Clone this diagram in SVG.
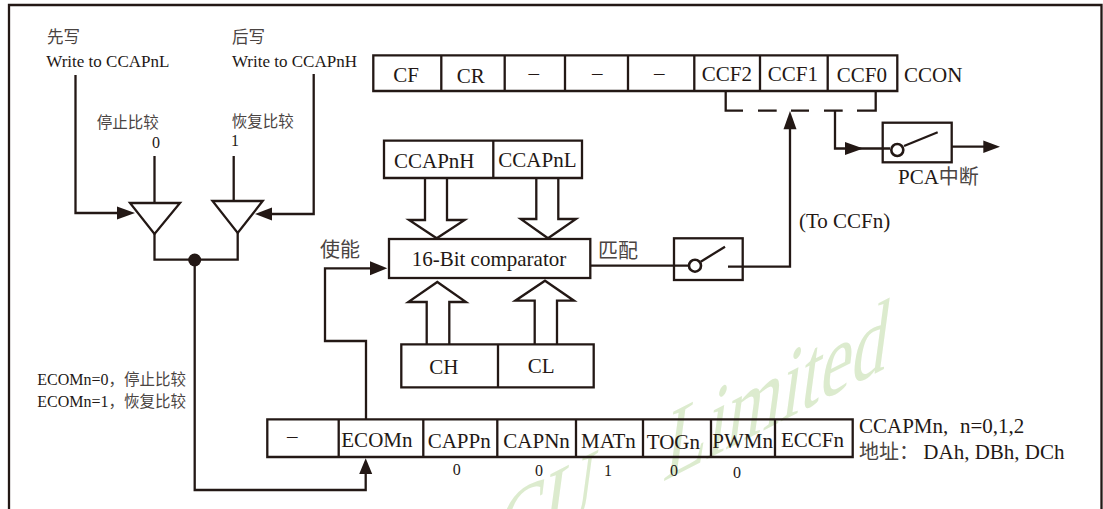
<svg xmlns="http://www.w3.org/2000/svg" width="1103" height="509" viewBox="0 0 1103 509">
<defs>
<style>
.l{fill:none;stroke:#231815;stroke-width:2.300}
.h{fill:#231815;stroke:none}
.c{fill:#fff;stroke:#231815;stroke-width:2.600}
text{font-family:"Liberation Serif","Noto Sans CJK SC",serif;fill:#231815}
.a{font-size:21px}
.b{font-size:17px}
.s{font-size:16px}
.z{font-size:15.5px;fill:#4a4442}
.y{font-size:16.5px;fill:#4a4442}
.x{font-size:20px;fill:#4a4442}
.d{font-size:16px;fill:#231815}
.w{font-size:79px;fill:#dcebce}
</style>
</defs>
<rect width="1103" height="509" fill="#fff"/>
<g id="watermark">
<text class="w" transform="matrix(0.89,-0.454,-0.18,1.34,662,482)"><tspan x="-190">CU</tspan><tspan x="0">Limited</tspan></text>
</g>
<g id="frame"><path class="l" d="M9 509V5H1101.500V509"/></g>
<g id="connectors">
<path class="l" d="M75.500 75V213H120"/><path class="h" d="M117 206.500L135 213L117 219.500Z"/>
<path class="l" d="M313.700 74V214H270"/><path class="h" d="M272 207.500L255 214L272 220.500Z"/>
<path class="l" d="M154.500 156V203M233.700 156V201"/>
<path class="l" d="M154.500 234V259.700H237.700V233"/>
<circle class="h" cx="194.700" cy="260" r="6.500"/>
<path class="l" d="M194.700 260V490H365.700V472"/><path class="h" d="M359.200 474L365.700 458.300L372.200 474Z"/>
<path class="l" d="M366 419V341H325V268.300H372"/><path class="h" d="M370 261.300L387.300 268.300L370 275.300Z"/>
<path class="l" d="M590 265.700H688"/>
<path class="l" d="M728 266.700H790V127"/><path class="h" d="M783.500 129.300L790 111L796.500 129.300Z"/>
<path class="l" d="M725.700 91V110.700H743M758 110.700H776.700M791 110.700H809M824 110.700H842.700M857 110.700H875.700V91"/>
<path class="l" d="M835 110.700V148.500H890"/><path class="h" d="M845 142L863.300 148.500L845 155Z"/>
<path class="l" d="M951.700 146.700H985"/><path class="h" d="M983.300 140.500L1000 146.700L983.300 153Z"/>
<path class="l" d="M425 178V220H409L436.700 238.300L464.700 220H447V178"/>
<path class="l" d="M536.300 178V219H520.700L548 238.300L576 219H558.300V178"/>
<path class="l" d="M426.700 344V302H408.300L437.300 282L466 302H449.300V344"/>
<path class="l" d="M534.700 344V300.700H515.300L545 280.700L574 300.700H557V344"/>
</g>
<g id="buffer-0"><path class="l" d="M130 203H180L154.500 234Z"/></g>
<g id="buffer-1"><path class="l" d="M212.500 201H262.700L237.700 233Z"/></g>
<g id="ccon">
<path class="l" d="M373.300 55.300H897.300V91H373.300ZM441.300 55.300V91M504.700 55.300V91M565 55.300V91M628 55.300V91M694.300 55.300V91M760 55.300V91M827.700 55.300V91"/>
<text class="a" x="393.300" y="81.700">CF</text>
<text class="a" x="456.700" y="83">CR</text>
<text class="a" x="528.500" y="79.500">–</text>
<text class="a" x="592" y="79.500">–</text>
<text class="a" x="654" y="79.500">–</text>
<text class="a" x="701.700" y="81">CCF2</text>
<text class="a" x="767.700" y="81">CCF1</text>
<text class="a" x="836.700" y="82.300">CCF0</text>
<text class="a" x="904" y="81.700">CCON</text>
</g>
<g id="ccap">
<path class="l" d="M384 140.700H582V178H384ZM493.300 140.700V178"/>
<text class="a" x="394" y="168.300">CCAPnH</text>
<text class="a" x="498.300" y="166.700">CCAPnL</text>
</g>
<g id="comparator">
<rect class="l" x="389" y="239" width="201.300" height="39"/>
<text class="a" x="411.700" y="265.700">16-Bit comparator</text>
</g>
<g id="counter">
<path class="l" d="M401.300 344.300H593.700V387.300H401.300ZM498 344.300V387.300"/>
<text class="a" x="429.300" y="374">CH</text>
<text class="a" x="527.700" y="372.700">CL</text>
</g>
<g id="match-switch">
<rect class="l" x="674" y="238.300" width="68.700" height="41.700"/>
<path class="l" d="M700.700 261.700L725 246.700"/>
<circle class="c" cx="695" cy="265.700" r="6"/>
</g>
<g id="pca-switch">
<rect class="l" x="882.700" y="122.700" width="69" height="39.600"/>
<path class="l" d="M904 146L937.700 132.300"/>
<circle class="c" cx="897.300" cy="150" r="6"/>
<text class="a" x="898" y="184">PCA<tspan class="x">中断</tspan></text>
</g>
<g id="ccapm">
<path class="l" d="M267.300 419.300H852.700V457H267.300ZM338.700 419.300V457M423.300 419.300V457M497.300 419.300V457M576 419.300V457M643 419.300V457M711 419.300V457M775 419.300V457"/>
<text class="a" x="287" y="442.500">–</text>
<text class="a" x="341.300" y="447.300">ECOMn</text>
<text class="a" x="427.700" y="448.300">CAPPn</text>
<text class="a" x="503.300" y="448.300">CAPNn</text>
<text class="a" x="581" y="448">MATn</text>
<text class="a" x="646.700" y="448.500">TOGn</text>
<text class="a" x="712.300" y="448">PWMn</text>
<text class="a" x="781" y="446.700">ECCFn</text>
<text class="d" x="452.700" y="475">0</text>
<text class="d" x="535" y="476">0</text>
<text class="d" x="604" y="476">1</text>
<text class="d" x="670" y="476">0</text>
<text class="d" x="733" y="478">0</text>
<text class="a" x="859" y="432.700">CCAPMn,<tspan x="960">n=0,1,2</tspan></text>
<text class="a" x="859" y="459"><tspan class="x">地址：</tspan><tspan x="923.300">DAh, DBh, DCh</tspan></text>
</g>
<g id="labels">
<text class="y" x="47" y="42.700">先写</text>
<text class="y" x="232" y="42.700">后写</text>
<text class="b" x="46.300" y="67">Write to CCAPnL</text>
<text class="b" x="232" y="67">Write to CCAPnH</text>
<text class="z" x="96.700" y="128.300">停止比较</text>
<text class="z" x="231.700" y="126.700">恢复比较</text>
<text class="d" x="152" y="148">0</text>
<text class="d" x="231" y="146">1</text>
<text class="x" x="320" y="257">使能</text>
<text class="x" x="598" y="258">匹配</text>
<text class="a" x="799" y="227.700">(To CCFn)</text>
<text class="s" x="37.300" y="385">ECOMn=0<tspan class="z">，停止比较</tspan></text>
<text class="s" x="37.300" y="406.700">ECOMn=1<tspan class="z">，恢复比较</tspan></text>
</g>
</svg>
